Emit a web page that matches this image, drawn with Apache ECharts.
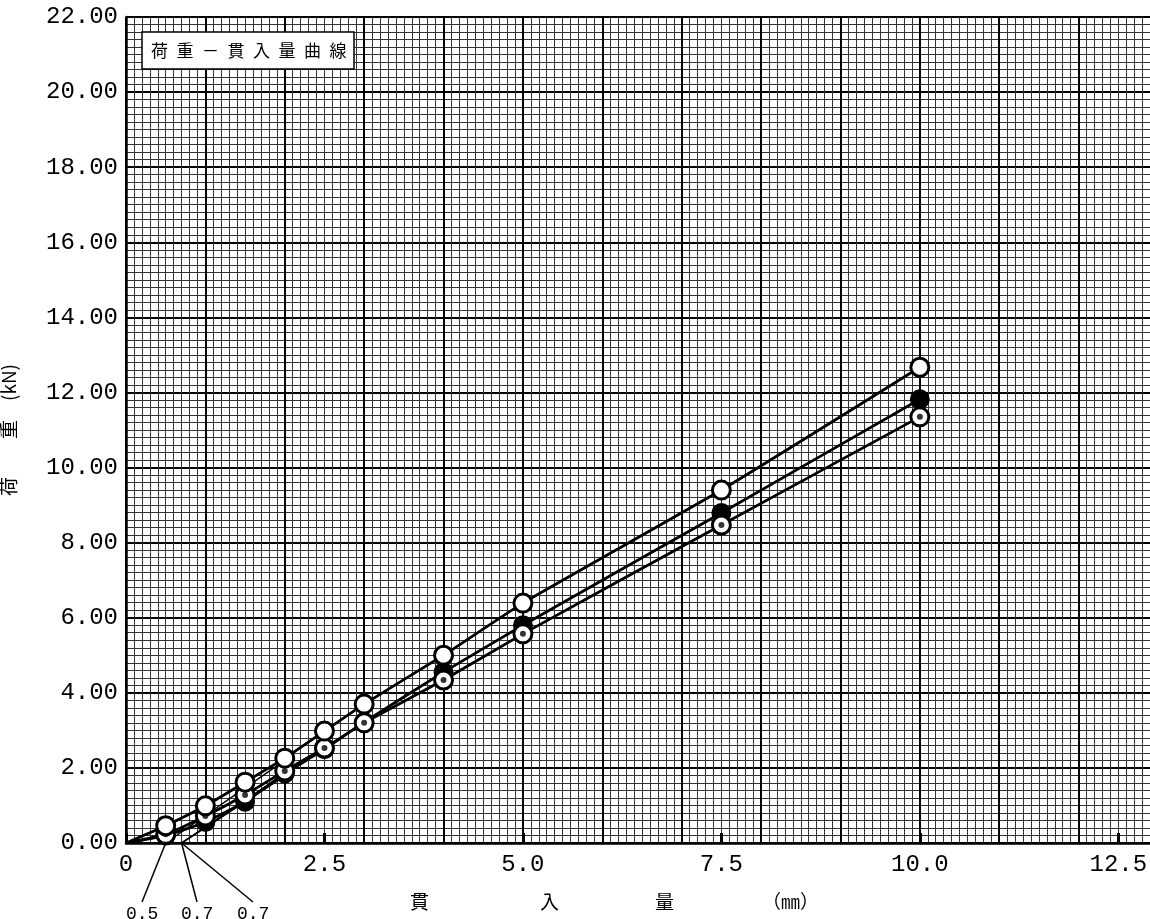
<!DOCTYPE html>
<html>
<head>
<meta charset="utf-8">
<script src="https://cdn.jsdelivr.net/npm/echarts@6/dist/echarts.min.js"></script>
<style>
  html, body { margin: 0; padding: 0; background: #fff; overflow: hidden; }
  #chart { width: 1158px; height: 919px; }
</style>
</head>
<body>
<div id="chart"></div>
<script>
// 貫入量 (mm)
var penetration = [0, 0.5, 1.0, 1.5, 2.0, 2.5, 3.0, 4.0, 5.0, 7.5, 10.0];
// 荷重 (kN) - 3 specimens
var loadOpen   = [0, 0.46, 0.99, 1.62, 2.26, 2.98, 3.70, 5.00, 6.39, 9.40, 12.67];
var loadFilled = [0, 0.20, 0.56, 1.10, 1.85, 2.50, 3.22, 4.55, 5.80, 8.79, 11.82];
var loadDot    = [0, 0.23, 0.72, 1.28, 1.92, 2.53, 3.20, 4.34, 5.57, 8.47, 11.35];
// 補正線 (origin correction)
var corrOpen   = [[0.5, 0], [2.0, 2.2]];
var corrFilled = [[0.7, 0], [2.0, 1.78]];
var corrDot    = [[0.7, 0], [2.0, 1.85]];
var intercepts = [0.5, 0.7, 0.7];
var xTicks = [0, 2.5, 5.0, 7.5, 10.0, 12.5];

function pairs(ys) {
    var out = [];
    for (var i = 0; i < penetration.length; i++) {
        if (penetration[i] === 0) out.push({ value: [penetration[i], ys[i]], symbol: 'none' });
        else out.push([penetration[i], ys[i]]);
    }
    return out;
}

var numFont = 'Liberation Mono';
var jpFont = 'Noto Sans CJK JP';

var chart = echarts.init(document.getElementById('chart'));

var lineBase = {
    type: 'line',
    animation: false,
    symbol: 'circle',
    symbolSize: 18,
    smooth: 0.15,
    lineStyle: { color: '#000', width: 2.8 },
    clip: true
};

chart.setOption({
    animation: false,
    backgroundColor: '#fff',
    title: {
        text: '荷\u2002重\u2002－\u2002貫\u2002入\u2002量\u2002曲\u2002線',
        left: 142,
        top: 32,
        backgroundColor: '#fff',
        borderColor: '#000',
        borderWidth: 1.5,
        padding: [10, 8, 10, 9],
        textStyle: { fontFamily: jpFont, fontSize: 17, fontWeight: 'normal', color: '#000' }
    },
    grid: { left: 126, top: 17, right: 0, bottom: 76, containLabel: false, outerBoundsMode: 'none' },
    xAxis: [{
        type: 'value', min: 0, max: 13, interval: 1,
        axisLine: { show: true, lineStyle: { color: '#000', width: 2.5 } },
        axisTick: { show: false },
        axisLabel: { show: false },
        splitLine: { show: true, lineStyle: { color: '#000', width: 2 } },
        minorTick: { show: false, splitNumber: 10 },
        minorSplitLine: { show: true, lineStyle: { color: '#333', width: 1 } }
    }, {
        type: 'value', min: 0, max: 13, interval: 2.5, position: 'bottom',
        axisLine: { show: false },
        axisTick: { show: true, inside: true, length: 10, lineStyle: { color: '#000', width: 3 } },
        splitLine: { show: false },
        axisLabel: {
            margin: 10, color: '#000', fontFamily: numFont, fontSize: 24,
            showMinLabel: true, showMaxLabel: true,
            formatter: function (v) {
                if (xTicks.indexOf(v) < 0) return '';
                return v === 0 ? '0' : v.toFixed(1);
            }
        }
    }],
    yAxis: {
        type: 'value', min: 0, max: 22, interval: 2,
        axisLine: { show: true, lineStyle: { color: '#000', width: 2.5 } },
        axisTick: { show: false },
        splitLine: { show: true, lineStyle: { color: '#000', width: 2 } },
        minorTick: { show: false, splitNumber: 10 },
        minorSplitLine: { show: true, lineStyle: { color: '#333', width: 1 } },
        axisLabel: {
            margin: 8, color: '#000', fontFamily: numFont, fontSize: 24,
            formatter: function (v) { return v.toFixed(2); }
        },
        name: '荷　　重　(kN)',
        nameLocation: 'middle',
        nameRotate: 90,
        nameGap: 108,
        nameTextStyle: { fontFamily: jpFont, fontSize: 19, color: '#000' }
    },
    series: [
        // correction lines
        { type: 'line', data: corrFilled, symbol: 'none', lineStyle: { color: '#000', width: 1.5 }, z: 3 },
        { type: 'line', data: corrDot, symbol: 'none', lineStyle: { color: '#000', width: 1.5 }, z: 3 },
        { type: 'line', data: corrOpen, symbol: 'none', lineStyle: { color: '#000', width: 1.5 }, z: 3 },
        Object.assign({}, lineBase, {
            name: 'filled', data: pairs(loadFilled), z: 4,
            itemStyle: { color: '#000', borderColor: '#000', borderWidth: 2 }
        }),
        Object.assign({}, lineBase, {
            name: 'dot', data: pairs(loadDot), z: 5,
            itemStyle: { color: '#fff', borderColor: '#000', borderWidth: 3 }
        }),
        {
            type: 'scatter', data: pairs(loadDot), symbol: 'circle', symbolSize: 6, z: 6,
            itemStyle: { color: '#000' }
        },
        Object.assign({}, lineBase, {
            name: 'open', data: pairs(loadOpen), z: 7,
            itemStyle: { color: '#fff', borderColor: '#000', borderWidth: 3 }
        })
    ]
});

// leader lines from axis intercepts to their labels, and x axis title
var labelX = [143, 198, 254];
var graphics = [];
for (var i = 0; i < intercepts.length; i++) {
    var p = chart.convertToPixel({ xAxisIndex: 0, yAxisIndex: 0 }, [intercepts[i], 0]);
    graphics.push({
        type: 'line', silent: true,
        shape: { x1: p[0], y1: p[1], x2: labelX[i] - 1, y2: 902 },
        style: { stroke: '#000', lineWidth: 1.5 }
    });
    graphics.push({
        type: 'text', left: labelX[i] - 17, top: 905,
        style: { text: intercepts[i].toFixed(1), font: '18px "' + numFont + '"', fill: '#000' }
    });
}
var xName = [['貫', 410], ['入', 540], ['量', 655], ['（㎜）', 762]];
xName.forEach(function (t) {
    graphics.push({
        type: 'text', left: t[1], top: 892,
        style: { text: t[0], font: '19px "' + jpFont + '"', fill: '#000' }
    });
});
chart.setOption({ graphic: graphics });
</script>
</body>
</html>
